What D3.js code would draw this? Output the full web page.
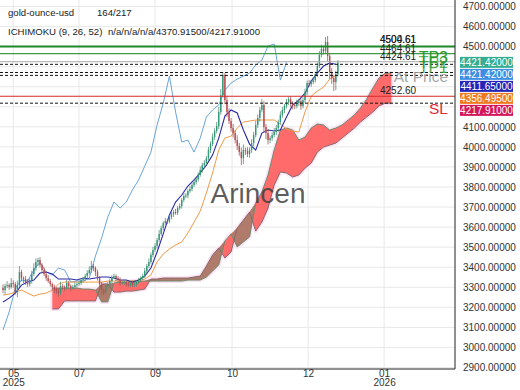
<!DOCTYPE html>
<html>
<head>
<meta charset="utf-8">
<script src="https://cdn.jsdelivr.net/npm/d3@7"></script>
<style>
body { margin: 0; background: #fff; }
text { font-family: "Liberation Sans", Arial, sans-serif; }
</style>
</head>
<body>
<script>
// daily closes (index 0 = first visible candle)
var closes = [3286,3306,3311,3301,3321,3316,3276,3311,3376,3346,
  3341,3321,3316,3336,3366,3396,3426,3436,3411,3386,
  3366,3346,3331,3316,3301,3291,3281,3271,3306,3301,
  3296,3321,3306,3296,3301,3311,3316,3321,3336,3341,
  3356,3371,3386,3406,3396,3376,3346,3316,3286,3276,
  3306,3316,3331,3351,3356,3346,3336,3321,3324,3326,
  3316,3311,3321,3311,3316,3326,3336,3346,3356,3381,
  3406,3426,3461,3486,3506,3536,3566,3595,3620,3630,
  3628,3650,3665,3675,3672,3695,3705,3735,3755,3758,
  3780,3790,3810,3825,3838,3860,3885,3909,3920,3944,
  3984,4014,4049,4079,4104,4174,4258,4358,4233,4174,
  4129,4094,4069,4034,4004,3974,3944,3984,3980,3964,
  3984,4019,4059,4109,4144,4184,4209,4099,4069,4034,
  4044,4059,4074,4094,4124,4159,4184,4204,4223,4238,
  4218,4209,4204,4218,4228,4204,4233,4273,4318,4313,
  4323,4333,4363,4403,4458,4488,4478,4523,4453,4373,
  4343,4323,4363,4421];
var firstOpen = 3296;
// wick lengths above / below the body, in USD
var wickHi = [18,12,20,9,25,14,10,22,30,12,8,15,20,11,16,24,18,10,14,9,
  12,8,15,10,7,12,9,14,22,10,8,16,12,9,11,14,8,12,10,9,
  11,14,18,25,10,8,12,9,11,7,15,10,13,9,12,8,10,14,9,11,
  8,12,10,9,13,8,11,9,12,15,10,18,12,16,14,11,20,13,9,15,
  12,10,14,9,16,11,13,10,18,12,9,14,11,15,10,13,17,12,14,11,
  16,13,18,14,20,25,30,15,10,22,18,15,20,14,24,16,22,28,12,18,
  14,20,16,22,18,15,30,20,15,18,12,14,20,16,12,18,14,10,16,12,
  14,10,12,18,12,10,14,18,12,16,10,14,12,18,20,22,16,25,30,15,
  20,14,18,12];
var wickLo = [15,20,10,14,8,18,12,25,10,16,20,9,14,12,18,10,15,20,12,16,
  10,14,9,12,16,20,14,18,10,12,15,9,13,16,10,12,14,9,11,13,
  10,12,9,14,16,20,12,18,22,15,10,14,9,12,10,16,11,13,9,12,
  14,10,12,9,11,13,10,12,9,10,14,11,9,12,10,14,11,9,13,10,
  12,9,11,14,10,12,9,13,11,10,14,9,12,10,13,11,9,14,12,10,
  12,15,10,14,12,16,14,12,20,25,15,18,22,16,20,18,35,30,20,15,
  18,14,16,12,15,18,12,25,30,22,16,14,12,15,18,12,14,16,12,14,
  18,22,16,12,14,20,12,14,16,12,14,10,12,14,10,12,18,15,25,35,
  30,45,40,12];

// ichimoku lines, one value every 3 candles
var lineStep = 3;
var tenkan = [3227,3246,3271,3311,3326,3336,3371,3376,3366,3341,
  3341,3341,3336,3346,3341,3346,3351,3351,3346,3336,
  3336,3326,3336,3356,3396,3476,3566,3660,3725,3760,
  3805,3835,3870,3909,3959,4044,4154,4184,4169,4084,
  4014,3984,4069,4084,4079,4084,4149,4209,4233,4268,
  4328,4368,4403,4418,4412];
var kijun = [3261,3266,3276,3286,3271,3256,3266,3271,3286,3316,
  3326,3326,3326,3326,3326,3326,3326,3331,3331,3331,
  3331,3331,3331,3341,3361,3426,3466,3491,3511,3526,
  3571,3625,3680,3770,3870,3984,4044,4054,4094,4124,
  4129,4134,4134,4134,4134,4114,4089,4079,4074,4174,
  4253,4278,4298,4338,4356];
var chikou = [3087,3177,3296,3336,3331,3386,3426,3376,3361,3396,
  3386,3326,3331,3331,3346,3456,3546,3650,3725,3695,
  3725,3785,3835,3904,3974,4109,4218,4353,4174,4024,
  4034,3974,4044,4149,4184,4209,4283,4318,4338,4353,
  4368,4408,4433,4503,4513,4333,4421];
var cloudStart = 24;
var senkouA = [3296,3296,3296,3296,3296,3291,3291,3286,3227,3227,
  3321,3326,3326,3331,3331,3331,3331,3331,3331,3331,
  3331,3331,3336,3336,3336,3351,3381,3411,3531,3566,
  3501,3526,3551,3720,3775,3860,3984,4084,4094,4084,
  4034,4049,4094,4114,4109,4084,4094,4109,4134,4159,
  4194,4238,4293,4343,4368,4368];
var senkouB = [3192,3192,3232,3232,3232,3232,3232,3232,3316,3316,
  3276,3276,3281,3281,3286,3291,3341,3341,3346,3346,
  3346,3346,3346,3351,3356,3406,3461,3496,3446,3476,
  3595,3635,3675,3580,3625,3695,3810,3875,3870,3850,
  3860,3894,3919,3974,3999,4009,4019,4044,4069,4094,
  4124,4149,4174,4204,4218,4218];

// axes
var monthTicks = [5, 37, 74, 111.5, 148.5, 185.5];
var monthLabels = ["05", "07", "09", "10", "12", "01"];
var yearLabels = ["2025", "", "", "", "", "2026"];
var priceTicks = d3.range(2900, 4701, 100);

// trade levels and last-value tags
var tpLevels = [4500.61, 4464.61, 4424.61];
var tpTexts = ["4500.61", "4464.61", "4424.61"];
var slLevel = 4252.60;
var dashLevels = [4411.65, 4370.915, 4356.495, 4217.91];
var tagValues = [4421.42, 4421.42, 4411.65, 4356.495, 4217.91];

var plotW = 455, plotH = 369;
var x = d3.scaleLinear().domain([0, 220]).range([3, 455]);
var y = d3.scaleLinear().domain([2900, 4700]).range([367.5, 6.5]);

var svg = d3.select("body").append("svg").attr("width", 520).attr("height", 390);
svg.append("defs").append("clipPath").attr("id", "plot")
  .append("rect").attr("width", plotW).attr("height", plotH);

// grid
var grid = svg.append("g").attr("stroke", "#e8e8e8").attr("stroke-width", 1);
grid.selectAll(".gh").data(priceTicks).enter().append("line")
  .attr("x1", 0).attr("x2", plotW)
  .attr("y1", function(d) { return y(d); }).attr("y2", function(d) { return y(d); });
grid.selectAll(".gv").data(monthTicks).enter().append("line")
  .attr("y1", 0).attr("y2", plotH)
  .attr("x1", function(d) { return x(d); }).attr("x2", function(d) { return x(d); });

var plot = svg.append("g").attr("clip-path", "url(#plot)");

// cloud
var cloud = senkouA.map(function(a, k) { return {i: cloudStart + k * lineStep, a: a, b: senkouB[k]}; });
var areaAll = d3.area().x(function(d) { return x(d.i); })
  .y0(function(d) { return y(d.a); }).y1(function(d) { return y(d.b); });
var areaRed = d3.area().x(function(d) { return x(d.i); })
  .y0(function(d) { return y(d.b); }).y1(function(d) { return y(Math.max(d.a, d.b)); });
var areaBrown = d3.area().x(function(d) { return x(d.i); })
  .y0(function(d) { return y(d.a); }).y1(function(d) { return y(Math.max(d.a, d.b)); });

plot.append("path").datum(cloud).attr("d", areaAll)
  .attr("fill", "#fde3f5").attr("stroke", "#fde3f5").attr("stroke-width", 4).attr("stroke-linejoin", "round");
plot.append("path").datum(cloud).attr("d", areaRed).attr("fill", "#ff6b6b");
plot.append("path").datum(cloud).attr("d", areaBrown).attr("fill", "#b07b6a");

var line = d3.line().x(function(d) { return x(d.i); }).y(function(d) { return y(d.v); });
function pts(arr, start) {
  return arr.map(function(v, k) { return {i: start + k * lineStep, v: v}; });
}
plot.append("path").datum(pts(senkouA, cloudStart)).attr("d", line)
  .attr("fill", "none").attr("stroke", "#6a8c6c").attr("stroke-width", 1);
plot.append("path").datum(pts(senkouB, cloudStart)).attr("d", line)
  .attr("fill", "none").attr("stroke", "#85696a").attr("stroke-width", 1);

// chikou, kijun, tenkan
plot.append("path").datum(pts(chikou, 0)).attr("d", line)
  .attr("fill", "none").attr("stroke", "#6aa5d9").attr("stroke-width", 1);
plot.append("path").datum(pts(kijun, 0)).attr("d", line)
  .attr("fill", "none").attr("stroke", "#f09a48").attr("stroke-width", 1);
plot.append("path").datum(pts(tenkan, 0)).attr("d", line)
  .attr("fill", "none").attr("stroke", "#2a2aa8").attr("stroke-width", 1.1);

// candles
var candles = closes.map(function(c, i) {
  var o = i === 0 ? firstOpen : closes[i - 1];
  return {i: i, o: o, c: c, h: Math.max(o, c) + wickHi[i], l: Math.min(o, c) - wickLo[i]};
});
var cg = plot.append("g");
cg.selectAll(".wick").data(candles).enter().append("line")
  .attr("x1", function(d) { return x(d.i); }).attr("x2", function(d) { return x(d.i); })
  .attr("y1", function(d) { return y(d.h); }).attr("y2", function(d) { return y(d.l); })
  .attr("stroke", function(d) { return d.c >= d.o ? "#5a8a7a" : "#9a5a5c"; })
  .attr("stroke-width", 0.8);
cg.selectAll(".body").data(candles).enter().append("rect")
  .attr("x", function(d) { return x(d.i) - 0.7; })
  .attr("width", 1.4)
  .attr("y", function(d) { return y(Math.max(d.o, d.c)); })
  .attr("height", function(d) { return Math.max(1, Math.abs(y(d.o) - y(d.c))); })
  .attr("fill", function(d) { return d.c >= d.o ? "#2f9a77" : "#bf4a50"; });

// levels
var lv = plot.append("g");
lv.append("line").attr("x1", 0).attr("x2", plotW).attr("y1", y(tpLevels[0])).attr("y2", y(tpLevels[0]))
  .attr("stroke", "#1f8a2a").attr("stroke-width", 2);
lv.append("line").attr("x1", 0).attr("x2", plotW).attr("y1", y(tpLevels[1])).attr("y2", y(tpLevels[1]))
  .attr("stroke", "#3f9a45").attr("stroke-width", 1.2);
lv.append("line").attr("x1", 0).attr("x2", plotW).attr("y1", y(tpLevels[2])).attr("y2", y(tpLevels[2]))
  .attr("stroke", "#a9a9a9").attr("stroke-width", 1);
lv.selectAll(".dash").data(dashLevels).enter().append("line")
  .attr("x1", 0).attr("x2", plotW)
  .attr("y1", function(d) { return y(d); }).attr("y2", function(d) { return y(d); })
  .attr("stroke", "#111").attr("stroke-width", 1).attr("stroke-dasharray", "3,2");
lv.append("line").attr("x1", 0).attr("x2", plotW).attr("y1", y(slLevel)).attr("y2", y(slLevel))
  .attr("stroke", "#d42a2a").attr("stroke-width", 1.2);

// watermark
svg.append("text").attr("x", 258).attr("y", 203).attr("text-anchor", "middle")
  .attr("font-size", 28).attr("fill", "#3f3f3f").attr("fill-opacity", 0.85).text("Arincen");

// level captions
var cap = svg.append("g").attr("font-size", 10).attr("fill", "#222");
cap.append("text").attr("x", 380).attr("y", y(tpLevels[0]) - 3).text("4504.61");
cap.append("text").attr("x", 380).attr("y", y(tpLevels[0]) - 3).text(tpTexts[0]);
cap.append("text").attr("x", 380).attr("y", y(tpLevels[1]) - 2).text(tpTexts[1]);
cap.append("text").attr("x", 380).attr("y", y(tpLevels[2]) - 2).text(tpTexts[2]);
cap.append("text").attr("x", 380).attr("y", y(slLevel) - 2).text(slLevel.toFixed(2));

var big = svg.append("g").attr("font-size", 16).attr("text-anchor", "end");
big.append("text").attr("x", 448).attr("y", 68).attr("fill", "#3aa03a").attr("fill-opacity", 0.8).text("TP2");
big.append("text").attr("x", 448).attr("y", 63).attr("fill", "#2a9a2a").text("TP3");
big.append("text").attr("x", 448).attr("y", 73).attr("fill", "#2a9a2a").attr("fill-opacity", 0.85).text("TP1");
big.append("text").attr("x", 448).attr("y", 82).attr("font-size", 15.5).attr("fill", "#9a9a9a").attr("fill-opacity", 0.9).text("At Price");
big.append("text").attr("x", 448).attr("y", 114).attr("font-size", 15.5).attr("fill", "#e0283a").text("SL");

// borders
svg.append("line").attr("x1", plotW).attr("x2", plotW).attr("y1", 0).attr("y2", plotH).attr("stroke", "#222");
svg.append("line").attr("x1", 0).attr("x2", plotW).attr("y1", plotH).attr("y2", plotH).attr("stroke", "#222");

// last value tags, pushed apart so they do not overlap
var tagColors = ["#35ad92", "#3d8fe3", "#2424b8", "#ef7a22", "#d3165a"];
var tagY = [];
tagValues.forEach(function(v, i) {
  var p = y(v);
  if (i > 0 && p < tagY[i - 1] + 12) p = tagY[i - 1] + 12;
  tagY.push(p);
});
var tagTop = tagY[0] - 8, tagBottom = tagY[tagY.length - 1] + 8;

// right axis, labels hidden behind the tags are left out
var ya = svg.append("g").attr("transform", "translate(" + plotW + ",0)")
  .call(d3.axisRight(y)
    .tickValues(priceTicks.filter(function(d) { return y(d) < tagTop || y(d) > tagBottom; }))
    .tickSize(0).tickPadding(8)
    .tickFormat(function(d) { return d.toFixed(5); }));
ya.select(".domain").remove();
ya.selectAll("text").attr("font-size", 10).attr("fill", "#333");

// bottom axis
var xa = svg.append("g").attr("transform", "translate(0," + plotH + ")")
  .call(d3.axisBottom(x).tickValues(monthTicks).tickSize(0).tickPadding(1)
    .tickFormat(function(d, i) { return monthLabels[i]; }));
xa.select(".domain").remove();
xa.selectAll("text").attr("font-size", 10).attr("fill", "#333");
xa.selectAll(".tick").append("text").attr("y", 10).attr("dy", "0.71em")
  .attr("font-size", 10).attr("fill", "#333")
  .text(function(d, i) { return yearLabels[i]; });

var tags = svg.append("g").selectAll("g").data(tagValues).enter().append("g")
  .attr("transform", function(d, i) { return "translate(460," + tagY[i] + ")"; });
tags.append("rect").attr("x", 0).attr("y", -5.5).attr("width", 53).attr("height", 11)
  .attr("fill", function(d, i) { return tagColors[i]; });
tags.append("text").attr("x", 26.5).attr("y", 3.5).attr("text-anchor", "middle")
  .attr("font-size", 10).attr("fill", "#fff")
  .text(function(d) { return d.toFixed(5); });

// legend
var lg = svg.append("g").attr("font-size", 9.6).attr("fill", "#222");
lg.append("text").attr("x", 8).attr("y", 16).text("gold-ounce-usd");
lg.append("text").attr("x", 97).attr("y", 16).text("164/217");
lg.append("text").attr("x", 8).attr("y", 35).text("ICHIMOKU (9, 26, 52)");
lg.append("text").attr("x", 108).attr("y", 35).text("n/a/n/a/n/a/4370.91500/4217.91000");
</script>
</body>
</html>
